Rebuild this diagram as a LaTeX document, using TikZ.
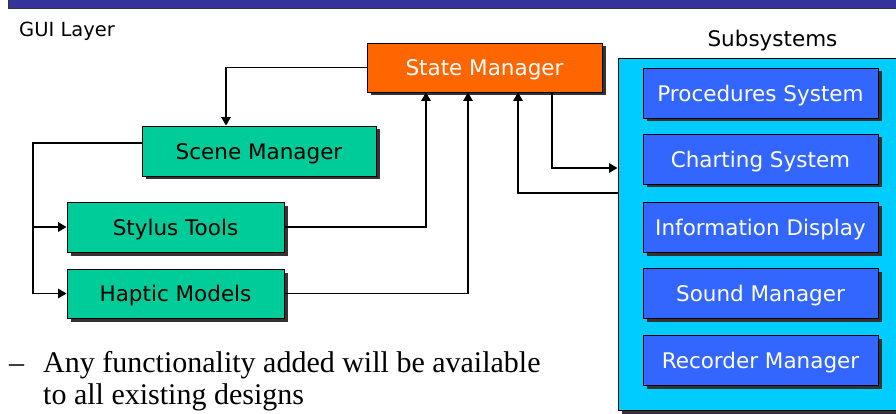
\documentclass[tikz,border=0pt]{standalone}
\usepackage{fontspec}
\setmainfont{Liberation Serif}
\newfontfamily\boxfont{DejaVu Sans}
\usetikzlibrary{arrows.meta,shadows,calc}

\definecolor{bandblue}{HTML}{333399}
\definecolor{stateorange}{HTML}{FF6600}
\definecolor{guigreen}{HTML}{00CC99}
\definecolor{subblue}{HTML}{3366FF}
\definecolor{subcyan}{HTML}{00CCFF}
\definecolor{shadowgray}{HTML}{333333}

\tikzset{
  box/.style={draw=black, line width=0.9pt, inner sep=0pt, minimum width=#1, minimum height=50pt,
    font=\boxfont\fontsize{21.5}{24}\selectfont, text height=16.3pt, text depth=0pt,
    drop shadow={shadow xshift=3.5pt, shadow yshift=-3.5pt, fill=shadowgray, opacity=1}},
  guibox/.style={box=217pt, fill=guigreen, text=black},
  statebox/.style={box=235pt, fill=stateorange, text=white},
  subbox/.style={box=235pt, fill=subblue, text=white},
  link/.style={draw=black, line width=1.6pt},
  arr/.style={link, -{Triangle[length=8.5pt,width=9.5pt]}},
  bodytext/.style={anchor=base west, inner sep=0pt, font=\fontsize{30}{33}\selectfont},
}

\begin{document}
\begin{tikzpicture}[x=1pt, y=-1pt]
  \useasboundingbox (0,0) rectangle (896,414);
  \clip (0,0) rectangle (896,414);

  % title band
  \fill[bandblue, draw=black!80, line width=1pt] (8,-5) rectangle (905,9);

  % headings
  \node[anchor=base west, inner sep=0pt, font=\boxfont\fontsize{19.5}{22}\selectfont] (guilabel) at (19,37) {GUI Layer};
  \node[anchor=base, inner sep=0pt, font=\boxfont\fontsize{21.5}{24}\selectfont] (sublabel) at (772.5,47) {Subsystems};

  % subsystem container
  \node[draw=black, line width=1pt, fill=subcyan, minimum width=287pt, minimum height=351pt, inner sep=0pt,
        drop shadow={shadow xshift=4pt, shadow yshift=-4pt, fill=shadowgray, opacity=1}]
        (subsys) at (761.5,234.5) {};

  % boxes
  \node[statebox, minimum height=49pt] (state) at (484.5,67.5) {State Manager};
  \node[guibox, minimum width=234pt] (scene) at (259,151) {Scene Manager};
  \node[guibox] (stylus) at (175.5,227) {Stylus Tools};
  \node[guibox, minimum height=49pt] (haptic) at (175.5,293.5) {Haptic Models};

  \node[subbox] (proc)  at (760.5,93)  {Procedures System};
  \node[subbox] (chart) at (760.5,159) {Charting System};
  \node[subbox] (info)  at (760.5,227) {Information Display};
  \node[subbox] (sound) at (760.5,293) {Sound Manager};
  \node[subbox] (rec)   at (760.5,360) {Recorder Manager};

  % connectors
  \coordinate (bus) at (33,0);
  \draw[arr] (state.west) -| ([xshift=-33pt]scene.north);
  \draw[link] ([yshift=8pt]scene.west) -| (haptic.west -| bus);
  \draw[arr] (stylus.west -| bus) -- (stylus.west);
  \draw[arr] (haptic.west -| bus) -- (haptic.west);
  \draw[arr] (stylus.east) -| ([xshift=-58.5pt]state.south);
  \draw[arr] (haptic.east) -| ([xshift=-16.5pt]state.south);
  \draw[arr] ([yshift=41.5pt]subsys.west) -| ([xshift=33.5pt]state.south);
  \draw[arr] ([xshift=67.5pt]state.south) |- ([yshift=66.5pt]subsys.west);

  % bullet text
  \node[bodytext] (dash) at (9,372) {–};
  \node[bodytext] (line1) at (43,372) {Any functionality added will be available};
  \node[bodytext] (line2) at (43,404) {to all existing designs};
\end{tikzpicture}
\end{document}
